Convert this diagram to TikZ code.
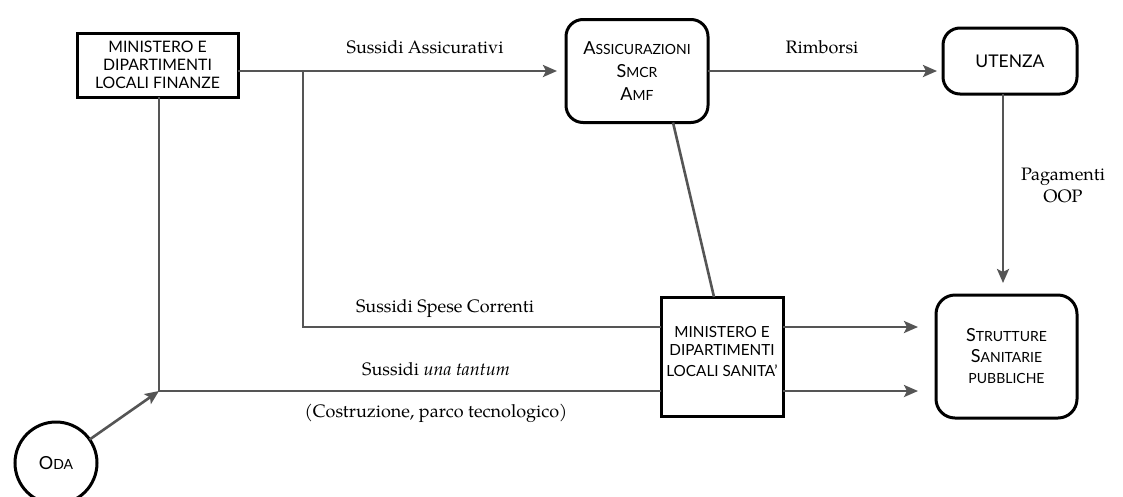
\documentclass[tikz,border=0pt]{standalone}
\usepackage{fontspec}
\setmainfont{TeX Gyre Pagella}
\newfontfamily\boxfont{Lato}
\usetikzlibrary{arrows.meta}
\definecolor{linegray}{RGB}{85,85,85}
% small-caps helpers for the box labels
\newcommand\capL[1]{{\fontsize{18}{23}\selectfont #1}}
\begin{document}
\begin{tikzpicture}[x=1pt,y=-1pt,
  conn/.style={line width=2.6pt,draw=linegray},
  arr/.style={conn,-{Stealth[length=14pt,width=12pt,inset=3pt]}},
  sqbox/.style={draw=black,line width=3pt,fill=white,align=center,inner sep=0pt,outer sep=0pt,
    font=\boxfont\fontsize{15.8}{18}\selectfont},
  rbox/.style={draw=black,line width=3pt,fill=white,rounded corners=17pt,align=center,inner sep=0pt,outer sep=0pt,
    font=\boxfont\fontsize{14}{23}\selectfont},
  lbl/.style={font=\fontsize{18}{22}\selectfont,align=center,inner sep=0pt}
]
\useasboundingbox (0,0) rectangle (1123,496);

% boxes
\node[sqbox,minimum width=161pt,minimum height=64pt] (fin) at (157.5,65)
  {MINISTERO E\\DIPARTIMENTI\\LOCALI FINANZE};
\node[rbox,minimum width=142pt,minimum height=103pt] (ass) at (637,71)
  {\capL{A}SSICURAZIONI\\\capL{S}MCR\\\capL{A}MF};
\node[rbox,minimum width=134pt,minimum height=66pt,font=\boxfont\fontsize{17.5}{20}\selectfont] (ute) at (1010,61)
  {UTENZA};
\node[rbox,rounded corners=19pt,minimum width=141pt,minimum height=123pt,font=\boxfont\fontsize{14}{21}\selectfont] (str) at (1006.5,356.5)
  {\capL{S}TRUTTURE\\\capL{S}ANITARIE\\PUBBLICHE};
\node[sqbox,minimum width=122pt,minimum height=119pt,font=\boxfont\fontsize{15.3}{18}\selectfont] (san) at (722,356.5)
  {MINISTERO E\\DIPARTIMENTI\\[3pt]LOCALI SANITA’\\[-8pt]};
\node[draw=black,line width=3pt,circle,minimum size=82pt,inner sep=0pt,outer sep=0pt,
  font=\boxfont\fontsize{14}{16}\selectfont] (oda) at (56,463) {\capL{O}DA};

% junction points of the funding lines
\coordinate (b1) at (303,71);
\coordinate (b2) at (303,327);
\coordinate (j) at (159,391);
\coordinate (v) at (1003,0);

% connectors
\draw[arr,shorten >=9pt] (fin.east |- ass.west) -- (ass.west);
\draw[arr,shorten >=6pt] (ass.east) -- (ass.east -| ute.west);
\draw[conn] (b1) |- (b2 -| san.west);
\draw[conn] (fin.south -| j) -- (j) -- (j -| san.west);
\draw[arr] (oda) -- (j);
\draw[arr,shorten >=18pt] (san.east |- b2) -- (b2 -| str.west);
\draw[arr,shorten >=18pt] (san.east |- j) -- (j -| str.west);
\draw[conn] ([xshift=36pt]ass.south) -- ([xshift=-8pt]san.north);
\draw[arr,shorten >=12pt] (ute.south -| v) -- (str.north -| v);

% labels
\node[lbl] (l1) at (425,47) {Sussidi Assicurativi};
\node[lbl] (l2) at (822,47) {Rimborsi};
\node[lbl] (l3) at (1063,185) {Pagamenti\\OOP};
\node[lbl] (l4) at (445,308) {Sussidi Spese Correnti};
\node[lbl] (l5) at (436,369) {Sussidi \emph{una tantum}};
\node[lbl] (l6) at (436,413) {(Costruzione, parco tecnologico)};
\end{tikzpicture}
\end{document}
